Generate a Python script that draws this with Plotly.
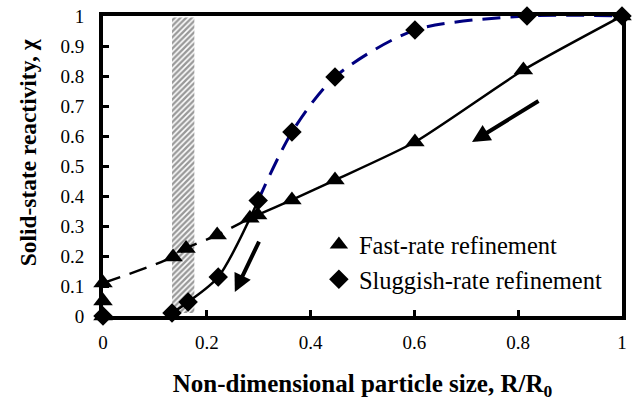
import plotly.graph_objects as go

# ---- data ----
fast_x = [0.0, 0.0, 0.0, 0.135, 0.16, 0.22, 0.283, 0.298, 0.364, 0.447, 0.601, 0.81, 1.0]
fast_y = [0.0, 0.05, 0.11, 0.197, 0.225, 0.27, 0.326, 0.337, 0.387, 0.453, 0.58, 0.82, 1.0]

slug_x = [0.0, 0.133, 0.164, 0.222, 0.299, 0.364, 0.447, 0.601, 0.817, 1.0]
slug_y = [0.0, 0.01, 0.047, 0.13, 0.385, 0.613, 0.797, 0.953, 1.0, 1.0]

band_x = [0.133, 0.176]          # hatched region
band_y = [0.01, 0.995]

# arrows: (tail_x, tail_y, head_x, head_y)
arrows = [(0.842, 0.72, 0.711, 0.58), (0.302, 0.253, 0.254, 0.08)]

x_ticks = [0, 0.2, 0.4, 0.6, 0.8, 1]
x_tick_text = ["0", "0.2", "0.4", "0.6", "0.8", "1"]
y_ticks = [i / 10 for i in range(11)]
y_tick_text = ["0", "0.1", "0.2", "0.3", "0.4", "0.5", "0.6", "0.7", "0.8", "0.9", "1"]

FONT = "Liberation Serif"

fig = go.Figure()

# hatched band
fig.add_trace(go.Scatter(
    x=[band_x[0], band_x[1], band_x[1], band_x[0], band_x[0]],
    y=[band_y[0], band_y[0], band_y[1], band_y[1], band_y[0]],
    mode="lines", fill="toself", line=dict(width=0, color="rgba(0,0,0,0)"),
    fillcolor="white",
    fillpattern=dict(shape="/", fgcolor="#333333", bgcolor="white", size=4, solidity=0.6),
    showlegend=False, hoverinfo="skip"))

# fast-rate lines: dashed up to index 6, solid afterwards
fig.add_trace(go.Scatter(x=fast_x[2:7], y=fast_y[2:7], mode="lines",
                         line=dict(color="black", width=2.5, dash="18px,10px", shape="spline"),
                         showlegend=False, hoverinfo="skip"))
fig.add_trace(go.Scatter(x=fast_x[6:], y=fast_y[6:], mode="lines",
                         line=dict(color="black", width=2.5, shape="spline", smoothing=0.6),
                         showlegend=False, hoverinfo="skip"))

# sluggish-rate lines: solid black then blue dashed
fig.add_trace(go.Scatter(x=slug_x[1:5], y=slug_y[1:5], mode="lines",
                         line=dict(color="black", width=2.5, shape="spline", smoothing=0.8),
                         showlegend=False, hoverinfo="skip"))
fig.add_trace(go.Scatter(x=slug_x[4:], y=slug_y[4:], mode="lines",
                         line=dict(color="#000080", width=3, dash="18px,10px", shape="spline", smoothing=0.8),
                         showlegend=False, hoverinfo="skip"))

# markers
fig.add_trace(go.Scatter(x=fast_x, y=fast_y, mode="markers", name="Fast-rate refinement",
                         marker=dict(symbol="triangle-up", size=17, color="black"),
                         cliponaxis=False))
fig.add_trace(go.Scatter(x=slug_x, y=slug_y, mode="markers", name="Sluggish-rate refinement",
                         marker=dict(symbol="diamond", size=15, color="black"),
                         cliponaxis=False))

for tx, ty, hx, hy in arrows:
    fig.add_annotation(x=hx, y=hy, ax=tx, ay=ty, xref="x", yref="y", axref="x", ayref="y",
                       text="", showarrow=True, arrowhead=2, arrowsize=0.9, arrowwidth=4,
                       arrowcolor="black")

# y-axis title as a rotated annotation (for exact placement)
fig.add_annotation(text="<b>Solid-state reactivity, χ</b>", xref="paper", yref="paper",
                   x=-0.144, y=0.547, xanchor="center", yanchor="middle", textangle=-90,
                   showarrow=False, font=dict(family=FONT, size=23.4, color="black"))

axis_common = dict(
    showline=True, linecolor="black", linewidth=4, mirror=True,
    ticks="inside", ticklen=6, tickwidth=3, tickcolor="black",
    showgrid=False, zeroline=False, automargin=False,
    tickfont=dict(family=FONT, size=19, color="black"),
)

fig.update_xaxes(range=[0, 1], tickvals=x_ticks, ticktext=x_tick_text,
                 title=dict(text="<b>Non-dimensional particle size, R/R<sub>0</sub></b>",
                            font=dict(family=FONT, size=25, color="black"), standoff=28),
                 ticklabelstandoff=6, **axis_common)
fig.update_yaxes(range=[0, 1], tickvals=y_ticks, ticktext=y_tick_text,
                 ticklabelstandoff=11, **axis_common)

fig.update_layout(
    width=634, height=401,
    margin=dict(l=103, r=12, t=16, b=85),
    plot_bgcolor="white", paper_bgcolor="white",
    legend=dict(x=0.416, y=0.18, xanchor="left", yanchor="middle",
                font=dict(family=FONT, size=24.5, color="black"),
                bgcolor="rgba(0,0,0,0)", itemsizing="trace", tracegroupgap=0),
)

fig.write_html("out.html", post_script="document.body.style.margin='0';",
               config={"displayModeBar": False})
